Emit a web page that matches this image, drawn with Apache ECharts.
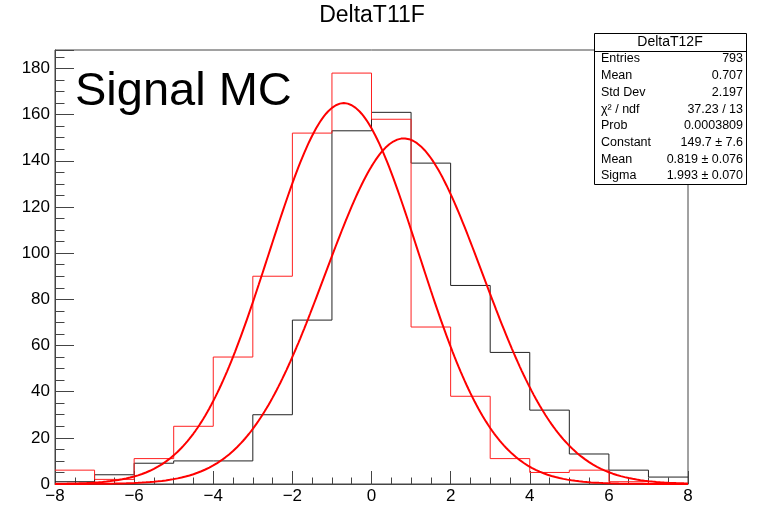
<!DOCTYPE html>
<html>
<head>
<meta charset="utf-8">
<script src="https://cdn.jsdelivr.net/npm/echarts@6/dist/echarts.min.js"></script>
<style>
html,body{margin:0;padding:0;background:#fff;}
#c{width:761px;height:506px;}
</style>
</head>
<body>
<div id="c"></div>
<script>
// ---- data ----
var binEdges = [-8,-7,-6,-5,-4,-3,-2,-1,0,1,2,3,4,5,6,7,8];
var blackCounts = [1,4,9,10,10,30,71,153,161,139,86,57,32,13,6,3];
var redCounts   = [6,2,11,25,55,90,152,178,158,68,38,11,5,6,1,0];
// Gaussian fit parameters [constant, mean, sigma]
var blackFit = [149.7, 0.819, 1.993];
var redFit   = [165.0, -0.70, 1.89];
var xTicks = [-8,-6,-4,-2,0,2,4,6,8];
var yTicks = [0,20,40,60,80,100,120,140,160,180];
var statTitle = 'DeltaT12F';
var statLabels = ['Entries','Mean','Std Dev','\u03c7\u00b2 / ndf','Prob','Constant','Mean','Sigma'];
var statValues = ['793','0.707','2.197','37.23 / 13','0.0003809','149.7 \u00b1 7.6','0.819 \u00b1 0.076','1.993 \u00b1 0.070'];

function histData(counts){
  var d = [];
  for (var i = 0; i < binEdges.length; i++) {
    d.push([binEdges[i], counts[Math.min(i, counts.length - 1)]]);
  }
  return d;
}
function fitData(p){
  var d = [];
  for (var k = 0; k <= 320; k++) {
    var x = -8 + k * 0.05;
    var z = (x - p[1]) / p[2];
    d.push([x, p[0] * Math.exp(-0.5 * z * z)]);
  }
  return d;
}

var FONT = 'Liberation Sans, Arial, Helvetica, sans-serif';
var AX = '#444';
var chart = echarts.init(document.getElementById('c'), null, {renderer:'canvas'});

var graphics = [];
graphics.push({type:'text', z:100, x:372, y:16,
  style:{text:'DeltaT11F', fontFamily:FONT, fontSize:23, fill:'#000', align:'center', verticalAlign:'middle'}});
graphics.push({type:'text', x:75, y:92, z:100,
  style:{text:'Signal MC', fontFamily:FONT, fontSize:47, fill:'#000', verticalAlign:'middle'}});
// stats box
var bx = 594, by = 33, bw = 152, bh = 151;
graphics.push({type:'rect', z:100, shape:{x:bx+0.5, y:by+0.5, width:bw, height:bh},
  style:{fill:'#fff', stroke:'#000', lineWidth:1}});
graphics.push({type:'line', z:101, shape:{x1:bx, y1:51.5, x2:bx+bw, y2:51.5},
  style:{stroke:'#000', lineWidth:1}});
graphics.push({type:'text', z:101, x:bx+bw/2, y:42,
  style:{text:statTitle, fontFamily:FONT, fontSize:14, fill:'#000', align:'center', verticalAlign:'middle'}});
for (var i = 0; i < statLabels.length; i++) {
  var yy = 59 + i * 16.7;
  graphics.push({type:'text', z:101, x:bx+7, y:yy,
    style:{text:statLabels[i], fontFamily:FONT, fontSize:12.5, fill:'#000', align:'left', verticalAlign:'middle'}});
  graphics.push({type:'text', z:101, x:bx+bw-3, y:yy,
    style:{text:statValues[i], fontFamily:FONT, fontSize:12.5, fill:'#000', align:'right', verticalAlign:'middle'}});
}

var option = {
  animation:false,
  backgroundColor:'#fff',
  grid:{left:55, right:73, top:50, bottom:22, show:true, borderColor:AX, borderWidth:1, backgroundColor:'transparent'},
  xAxis:{
    type:'value', min:-8, max:8, interval:2,
    axisLine:{show:true, onZero:false, lineStyle:{color:AX, width:1}},
    axisTick:{show:true, inside:true, length:13, lineStyle:{color:AX}},
    minorTick:{show:true, splitNumber:4, length:6.5, lineStyle:{color:AX}},
    splitLine:{show:false},
    axisLabel:{show:true, margin:4, fontFamily:FONT, fontSize:17, color:'#000',
      formatter:function(v){ return xTicks.indexOf(v) >= 0 ? String(v).replace('-', '\u2212') : ''; }}
  },
  yAxis:{
    type:'value', min:0, max:188, interval:20,
    axisLine:{show:true, onZero:false, lineStyle:{color:AX, width:1}},
    axisTick:{show:true, inside:true, length:19, lineStyle:{color:AX}},
    minorTick:{show:true, splitNumber:4, length:9.5, lineStyle:{color:AX}},
    splitLine:{show:false},
    axisLabel:{show:true, margin:5, fontFamily:FONT, fontSize:17, color:'#000', showMaxLabel:false,
      formatter:function(v){ return yTicks.indexOf(v) >= 0 ? String(v) : ''; }}
  },
  series:[
    {type:'line', name:'black', step:'end', data:histData(blackCounts), showSymbol:false, symbol:'none',
      lineStyle:{color:'#222', width:1}, z:2},
    {type:'line', name:'red', step:'end', data:histData(redCounts), showSymbol:false, symbol:'none',
      lineStyle:{color:'#ff2020', width:1}, z:3},
    {type:'line', name:'fitBlack', data:fitData(blackFit), showSymbol:false, symbol:'none', smooth:false,
      lineStyle:{color:'#ff0000', width:2}, z:4},
    {type:'line', name:'fitRed', data:fitData(redFit), showSymbol:false, symbol:'none', smooth:false,
      lineStyle:{color:'#ff0000', width:2}, z:4}
  ],
  graphic:graphics
};
chart.setOption(option);
</script>
</body>
</html>
